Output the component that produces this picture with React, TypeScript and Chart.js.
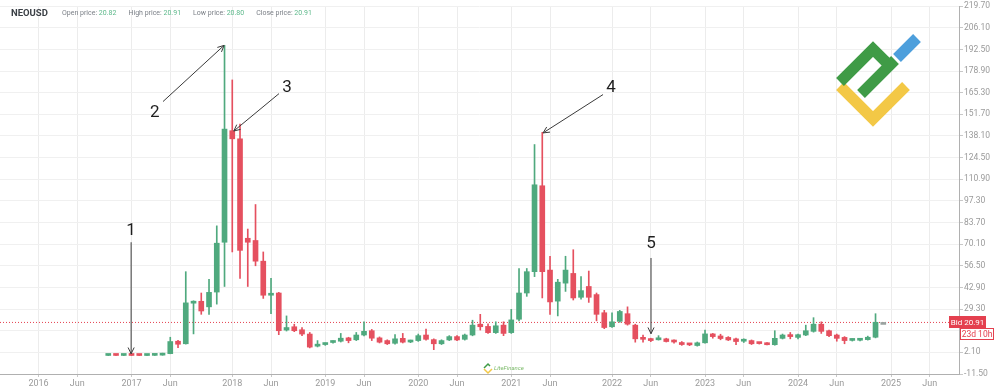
import React, { useEffect, useRef } from "react";
import { Chart, registerables } from "chart.js";

Chart.register(...registerables);

// ---------- data (monthly NEOUSD candles, bar index 9 .. 109) ----------
const START_INDEX = 9;
const OPEN = [
  0.15, 0.25, 0.15, 0.25, 0.2, 0.12, 0.2, 0.35,
  1.3, 9.1, 7.5, 33.0, 34.2, 30.7, 40.0, 71.3, 141.4, 136.3, 73.8, 72.4, 59.4, 38.0, 39.4,
  16.1, 18.2, 16.3, 13.6, 6.0, 7.0, 8.3, 9.1, 11.2, 10.0, 13.0, 15.7, 11.2, 9.5, 7.8, 10.9,
  8.6, 9.5, 13.0, 10.1, 7.5, 9.9, 12.0, 10.3, 13.0, 19.8, 18.4, 14.5, 19.2, 14.5, 22.9, 39.4,
  52.8, 106.8, 53.8, 34.3, 45.6, 51.7, 36.7, 43.5, 38.4, 27.0, 18.2, 21.6, 26.4, 19.2, 10.9,
  10.0, 10.0, 10.6, 9.1, 8.3, 7.2, 6.4, 8.1, 13.7, 12.4, 11.5, 10.6, 9.1, 9.5, 7.9, 8.1, 6.9,
  10.9, 13.2, 11.5, 13.0, 15.3, 19.8, 15.7, 13.0, 11.5, 9.6, 9.7, 10.1, 11.6, 20.91,
];
const HIGH = [
  0.3, 0.3, 0.3, 0.3, 0.25, 0.3, 0.45, 1.6,
  11.6, 9.6, 52.8, 34.5, 39.4, 48.0, 81.6, 195.0, 173.3, 145.5, 79.6, 95.0, 65.2, 48.6, 39.8,
  25.0, 19.8, 17.7, 14.6, 9.5, 8.0, 9.4, 14.0, 11.6, 14.6, 21.3, 16.5, 11.8, 10.0, 13.2, 14.0,
  9.8, 13.6, 16.7, 10.6, 10.0, 12.6, 12.6, 13.6, 22.3, 26.0, 20.0, 21.3, 21.3, 29.1, 54.8, 54.8,
  132.7, 140.4, 62.5, 48.0, 62.5, 66.6, 49.7, 53.2, 39.4, 28.5, 27.0, 28.5, 30.7, 19.8, 13.0,
  11.0, 12.6, 11.0, 10.0, 8.9, 7.6, 8.6, 16.1, 14.0, 13.5, 12.0, 11.0, 10.6, 9.9, 8.2, 8.3, 15.7,
  13.6, 14.6, 13.6, 19.2, 23.9, 21.3, 16.1, 13.6, 12.0, 10.6, 10.8, 12.3, 26.4, 20.91,
];
const LOW = [
  0.1, 0.1, 0.1, 0.1, 0.1, 0.1, 0.15, 0.3,
  1.2, 5.0, 7.3, 13.7, 26.0, 26.0, 32.4, 43.5, 65.2, 48.6, 43.5, 56.5, 36.0, 26.4, 13.2,
  15.5, 15.1, 12.6, 4.9, 5.5, 6.5, 7.8, 8.6, 8.1, 9.5, 12.5, 9.5, 8.0, 7.0, 7.3, 8.0,
  8.2, 9.0, 9.8, 3.8, 7.0, 9.5, 9.4, 9.8, 12.5, 16.1, 14.0, 14.0, 12.6, 14.0, 21.9, 37.3,
  49.7, 36.3, 26.0, 25.0, 40.4, 35.0, 35.5, 33.5, 21.9, 17.0, 17.7, 21.0, 19.2, 8.5, 8.5,
  8.8, 9.8, 8.6, 7.8, 6.5, 6.3, 6.0, 7.8, 11.0, 10.0, 9.5, 7.0, 8.3, 7.0, 7.3, 6.7, 6.6,
  10.5, 10.6, 10.6, 12.6, 14.8, 14.0, 12.0, 9.1, 7.5, 9.2, 9.3, 9.8, 11.2, 20.91,
];
const CLOSE = [
  0.25, 0.15, 0.25, 0.15, 0.12, 0.22, 0.35, 1.3,
  8.9, 7.2, 33.2, 34.0, 28.1, 39.8, 70.7, 142.4, 136.3, 66.2, 71.3, 59.4, 38.0, 39.0, 15.7,
  17.7, 15.7, 13.6, 5.4, 6.6, 7.6, 9.0, 11.0, 9.5, 13.0, 15.3, 11.0, 8.5, 7.5, 10.6, 8.5,
  9.3, 12.6, 10.3, 7.5, 9.5, 12.0, 9.9, 13.0, 19.2, 18.2, 14.5, 18.8, 14.0, 22.5, 39.4, 52.8,
  107.4, 52.8, 33.8, 46.2, 53.8, 36.3, 40.9, 36.7, 26.0, 17.7, 21.3, 27.8, 19.8, 10.6, 10.3,
  9.5, 10.6, 8.9, 8.6, 7.0, 6.8, 8.1, 13.7, 12.0, 10.8, 9.9, 8.9, 9.6, 7.5, 7.6, 6.9, 10.9,
  13.0, 12.0, 13.2, 15.7, 19.8, 15.3, 12.6, 10.9, 9.5, 10.0, 10.2, 11.6, 21.0, 20.91,
];

const X_TICK_POS = [0, 5, 12, 17, 25, 30, 37, 42, 49, 54, 61, 66, 74, 79, 86, 91, 98, 103, 110, 115];
const X_TICK_LABELS = [
  "2016", "Jun", "2017", "Jun", "2018", "Jun", "2019", "Jun", "2020", "Jun",
  "2021", "Jun", "2022", "Jun", "2023", "Jun", "2024", "Jun", "2025", "Jun",
];
const Y_TICKS = [
  -11.5, 2.1, 15.7, 29.3, 42.9, 56.5, 70.1, 83.7, 97.3, 110.9, 124.5, 138.1, 151.7, 165.3,
  178.9, 192.5, 206.1, 219.7,
];
const X_MIN = -4.97;
const X_MAX = 118.77;
const BID_PRICE = 20.91;
const BID_TEXT = "Bid 20.91";
const TIMER_TEXT = "23d 10h";
const SYMBOL = "NEOUSD";
const HEADER_ITEMS = [
  { label: "Open price:", value: "20.82" },
  { label: "High price:", value: "20.91" },
  { label: "Low price:", value: "20.80" },
  { label: "Close price:", value: "20.91" },
];
// annotation: text at (tx, ty), arrow from (ax, ay) to (bx, by) — in bar index / price units
const NOTES = [
  { text: "1", tx: 11.95, ty: 78.8, ax: 11.95, ay: 71.3, bx: 11.95, by: 1.2 },
  { text: "2", tx: 15.0, ty: 152.9, ax: 16.06, ay: 159.7, bx: 23.94, by: 195.0 },
  { text: "3", tx: 32.06, ty: 168.4, ax: 31.03, ay: 164.7, bx: 25.2, by: 141.2 },
  { text: "4", tx: 73.87, ty: 168.4, ax: 72.84, ay: 164.1, bx: 65.1, by: 140.0 },
  { text: "5", tx: 79.03, ty: 70.1, ax: 79.03, ay: 61.4, bx: 79.03, by: 13.8 },
];

const GREEN = "#4fa97e";
const RED = "#e5505f";
const FLAT = "#9aa3a0";
const FONT = "Roboto, 'Liberation Sans', Arial, sans-serif";

const overlayPlugin = {
  id: "overlay",
  afterDatasetsDraw(chart: any) {
    const { ctx, scales } = chart;
    const xs = scales.x;
    const ys = scales.y;
    ctx.save();
    ctx.strokeStyle = "#3a3a3a";
    ctx.fillStyle = "#1e1e1e";
    ctx.lineWidth = 1;
    ctx.font = `17px ${FONT}`;
    ctx.textAlign = "center";
    ctx.textBaseline = "middle";
    NOTES.forEach((n) => {
      const tx = xs.getPixelForValue(n.tx);
      const ty = ys.getPixelForValue(n.ty);
      ctx.fillText(n.text, tx, ty);
      const ax = xs.getPixelForValue(n.ax);
      const ay = ys.getPixelForValue(n.ay);
      const bx = xs.getPixelForValue(n.bx);
      const by = ys.getPixelForValue(n.by);
      ctx.beginPath();
      ctx.moveTo(ax, ay);
      ctx.lineTo(bx, by);
      const ang = Math.atan2(by - ay, bx - ax);
      const len = 7;
      const spread = 0.45;
      ctx.moveTo(bx - len * Math.cos(ang - spread), by - len * Math.sin(ang - spread));
      ctx.lineTo(bx, by);
      ctx.lineTo(bx - len * Math.cos(ang + spread), by - len * Math.sin(ang + spread));
      ctx.stroke();
    });
    ctx.restore();
  },
  afterDraw(chart: any) {
    const { ctx, scales } = chart;
    const ys = scales.y;
    ctx.save();
    // header
    ctx.textBaseline = "middle";
    ctx.textAlign = "left";
    ctx.fillStyle = "#3a3f45";
    ctx.font = `bold 9.5px ${FONT}`;
    ctx.fillText(SYMBOL, 11, 13.5);
    let x = 62;
    ctx.font = `7px ${FONT}`;
    HEADER_ITEMS.forEach((h) => {
      ctx.fillStyle = "#7a7f86";
      ctx.fillText(h.label + " ", x, 13.5);
      x += ctx.measureText(h.label + " ").width;
      ctx.fillStyle = "#5cb88a";
      ctx.fillText(h.value, x, 13.5);
      x += ctx.measureText(h.value).width + 12;
    });
    // bid label
    const by = Math.round(ys.getPixelForValue(BID_PRICE));
    ctx.fillStyle = "#e4404f";
    ctx.fillRect(949, by - 6, 37, 12);
    ctx.fillStyle = "#ffffff";
    ctx.font = `8px ${FONT}`;
    ctx.textAlign = "center";
    ctx.fillText(BID_TEXT, 967.5, by + 0.5);
    ctx.fillStyle = "#ffffff";
    ctx.fillRect(960, by + 6, 34, 12);
    ctx.strokeStyle = "#e4404f";
    ctx.lineWidth = 1;
    ctx.strokeRect(960.5, by + 6.5, 33, 11);
    ctx.fillStyle = "#e4404f";
    ctx.font = `8.5px ${FONT}`;
    ctx.fillText(TIMER_TEXT, 977, by + 12.5);
    // logo
    ctx.lineCap = "butt";
    ctx.lineJoin = "miter";
    ctx.lineWidth = 11;
    ctx.strokeStyle = "#f3c846";
    ctx.beginPath();
    ctx.moveTo(840, 86);
    ctx.lineTo(873, 119);
    ctx.lineTo(906, 86);
    ctx.stroke();
    ctx.strokeStyle = "#3f9b46";
    ctx.beginPath();
    ctx.moveTo(840, 82);
    ctx.lineTo(873, 49);
    ctx.lineTo(889, 65);
    ctx.stroke();
    ctx.beginPath();
    ctx.moveTo(861, 94);
    ctx.lineTo(895, 60);
    ctx.stroke();
    ctx.strokeStyle = "#4d9fdc";
    ctx.beginPath();
    ctx.moveTo(897, 58);
    ctx.lineTo(917, 38);
    ctx.stroke();
    // small watermark
    ctx.lineWidth = 1.5;
    ctx.strokeStyle = "#3f9b46";
    ctx.beginPath();
    ctx.moveTo(484, 368);
    ctx.lineTo(488, 364);
    ctx.lineTo(490, 366);
    ctx.stroke();
    ctx.strokeStyle = "#f3c846";
    ctx.beginPath();
    ctx.moveTo(484, 369);
    ctx.lineTo(488, 373);
    ctx.lineTo(492, 369);
    ctx.stroke();
    ctx.fillStyle = "#7cba6a";
    ctx.font = `italic 6px ${FONT}`;
    ctx.textAlign = "left";
    ctx.fillText("LiteFinance", 494, 368.5);
    ctx.restore();
  },
};

export default function App() {
  const ref = useRef<HTMLCanvasElement | null>(null);
  useEffect(() => {
    document.body.style.margin = "0";
    const canvas = ref.current;
    if (!canvas) return;
    const idx = OPEN.map((_, k) => START_INDEX + k);
    const colors = OPEN.map((o, k) =>
      CLOSE[k] > o ? GREEN : CLOSE[k] < o ? RED : FLAT
    );
    const chart = new Chart(canvas, {
      type: "bar",
      data: {
        datasets: [
          {
            type: "line",
            data: [
              { x: X_MIN, y: BID_PRICE },
              { x: X_MAX, y: BID_PRICE },
            ],
            borderColor: "#e4404f",
            borderWidth: 1,
            borderDash: [1, 2],
            pointRadius: 0,
            order: 5,
          } as any,
          {
            type: "bar",
            data: idx.map((x, k) => ({ x, y: [LOW[k], HIGH[k]] })),
            backgroundColor: colors,
            barThickness: 1,
            grouped: false,
            order: 2,
          } as any,
          {
            type: "bar",
            data: idx.map((x, k) => ({
              x,
              y: [Math.min(OPEN[k], CLOSE[k]), Math.max(OPEN[k], CLOSE[k])],
            })),
            backgroundColor: colors,
            barThickness: 5,
            minBarLength: 2,
            grouped: false,
            order: 1,
          } as any,
        ],
      },
      options: {
        animation: false,
        responsive: false,
        maintainAspectRatio: false,
        layout: { padding: 0 },
        plugins: { legend: { display: false }, tooltip: { enabled: false } },
        scales: {
          x: {
            type: "linear",
            min: X_MIN,
            max: X_MAX,
            offset: false,
            afterBuildTicks: (ax: any) => {
              ax.ticks = X_TICK_POS.map((v) => ({ value: v }));
            },
            afterFit: (s: any) => {
              s.height = 18;
            },
            ticks: {
              autoSkip: false,
              maxRotation: 0,
              padding: 1,
              color: "#9a9a9a",
              font: { size: 9, family: FONT },
              callback: (_v: any, i: number) => X_TICK_LABELS[i],
            },
            grid: { color: "#ececec", offset: false, tickLength: 3, tickColor: "#c8c8c8" },
            border: { color: "#b0b0b0" },
          },
          y: {
            type: "linear",
            position: "right",
            min: -11.5,
            max: 219.7,
            afterBuildTicks: (ax: any) => {
              ax.ticks = Y_TICKS.map((v) => ({ value: v }));
            },
            afterFit: (s: any) => {
              s.width = 35;
            },
            ticks: {
              padding: 1,
              color: "#9a9a9a",
              font: { size: 8.5, family: FONT },
              callback: (v: any) => Number(v).toFixed(2),
            },
            grid: { color: "#f0f0f0", tickLength: 4, tickColor: "#c8c8c8" },
            border: { color: "#b0b0b0" },
          },
        },
      } as any,
      plugins: [overlayPlugin],
    });
    return () => chart.destroy();
  }, []);
  return (
    <div style={{ width: 994, height: 392, background: "#fff" }}>
      <canvas ref={ref} width={994} height={392} />
    </div>
  );
}
